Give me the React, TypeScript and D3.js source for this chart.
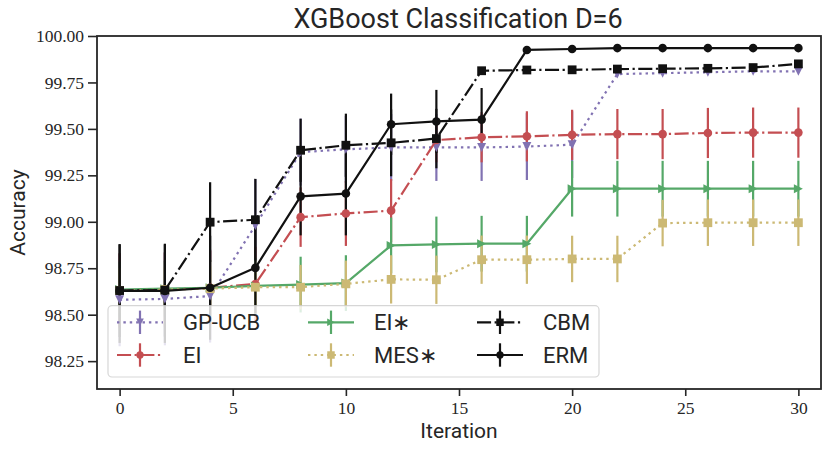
import React, { useEffect, useRef } from 'react'
import * as d3 from 'd3'

// iterations on the x axis
const iterations = [0, 2, 4, 6, 8, 10, 12, 14, 16, 18, 20, 22, 24, 26, 28, 30]

// mean accuracy per method
const gpUcb = [98.58, 98.585, 98.6, 98.98, 99.375, 99.39, 99.4, 99.4, 99.4, 99.405, 99.415, 99.795, 99.8, 99.805, 99.81, 99.81]
const ei = [98.63, 98.635, 98.645, 98.665, 99.025, 99.045, 99.06, 99.44, 99.455, 99.46, 99.468, 99.472, 99.472, 99.478, 99.48, 99.48]
const eiStar = [98.635, 98.64, 98.645, 98.655, 98.662, 98.67, 98.873, 98.878, 98.882, 98.882, 99.178, 99.178, 99.178, 99.178, 99.178, 99.178]
const mesStar = [98.63, 98.635, 98.64, 98.648, 98.648, 98.666, 98.69, 98.688, 98.796, 98.796, 98.8, 98.8, 98.993, 98.995, 98.995, 98.995]
const cbm = [98.63, 98.632, 98.998, 99.011, 99.385, 99.412, 99.425, 99.448, 99.813, 99.817, 99.818, 99.822, 99.824, 99.826, 99.83, 99.85]
const erm = [98.628, 98.628, 98.645, 98.752, 99.137, 99.152, 99.525, 99.54, 99.55, 99.925, 99.93, 99.935, 99.935, 99.935, 99.935, 99.935]

// error bar half-lengths
const gpUcbErr = [0.25, 0.25, 0.25, 0.25, 0.18, 0.18, 0.18, 0.18, 0.18, 0.18, 0.18, 0, 0, 0, 0, 0]
const eiErr = [0.2, 0.2, 0.2, 0.2, 0.16, 0.175, 0.17, 0.12, 0.135, 0.135, 0.135, 0.135, 0.135, 0.135, 0.135, 0.135]
const eiStarErr = [0.15, 0.15, 0.15, 0.15, 0.15, 0.15, 0.15, 0.15, 0.15, 0.15, 0.15, 0.15, 0.15, 0.15, 0.15, 0.15]
const mesStarErr = [0.12, 0.12, 0.12, 0.12, 0.12, 0.125, 0.13, 0.13, 0.13, 0.13, 0.125, 0.125, 0.125, 0.125, 0.125, 0.125]
const cbmErr = [0.25, 0.25, 0.215, 0.22, 0.17, 0.17, 0.18, 0.16, 0, 0, 0, 0, 0, 0, 0, 0]
const ermErrHi = [0.25, 0.25, 0.28, 0.245, 0.21, 0.215, 0.165, 0.17, 0.17, 0, 0, 0, 0, 0, 0, 0]
const ermErrLo = [0.28, 0.28, 0.28, 0.245, 0.21, 0.225, 0.165, 0.17, 0.09, 0, 0, 0, 0, 0, 0, 0]

const xTicks = [0, 5, 10, 15, 20, 25, 30]
const yTicks = [98.25, 98.5, 98.75, 99.0, 99.25, 99.5, 99.75, 100.0]

type Marker = 'tri-down' | 'tri-right' | 'circle' | 'square'

interface Series {
  name: string
  values: number[]
  lo: number[]
  hi: number[]
  color: string
  dash: string | null
  marker: Marker
}

const LW = 2.2
const DOTTED = `${LW * 1.1},${LW * 1.8}`
const DASHDOT = `${LW * 6.4},${LW * 1.6},${LW},${LW * 1.6}`

const series: Series[] = [
  { name: 'GP-UCB', values: gpUcb, lo: gpUcbErr, hi: gpUcbErr, color: '#8172B2', dash: DOTTED, marker: 'tri-down' },
  { name: 'EI', values: ei, lo: eiErr, hi: eiErr, color: '#C44E52', dash: DASHDOT, marker: 'circle' },
  { name: 'EI\u2217', values: eiStar, lo: eiStarErr, hi: eiStarErr, color: '#55A868', dash: null, marker: 'tri-right' },
  { name: 'MES\u2217', values: mesStar, lo: mesStarErr, hi: mesStarErr, color: '#CCB974', dash: DOTTED, marker: 'square' },
  { name: 'CBM', values: cbm, lo: cbmErr, hi: cbmErr, color: '#111111', dash: DASHDOT, marker: 'square' },
  { name: 'ERM', values: erm, lo: ermErrLo, hi: ermErrHi, color: '#111111', dash: null, marker: 'circle' },
]

const markerPath = (m: Marker): string => {
  const r = 4.5
  if (m === 'tri-down') return `M${-r},${-r}L${r},${-r}L0,${r}Z`
  if (m === 'tri-right') return `M${-r},${-r}L${r},0L${-r},${r}Z`
  if (m === 'square') return `M${-4.4},${-4.4}h8.8v8.8h-8.8Z`
  return d3.symbol(d3.symbolCircle, Math.PI * 4.3 * 4.3)() as string
}

const width = 830
const height = 453
const margin = { top: 36, right: 9, bottom: 64, left: 97 }
const axisColor = '#262626'
const sans = 'Roboto, "Liberation Sans", sans-serif'
const serif = '"Liberation Serif", "DejaVu Serif", serif'

const App: React.FC = () => {
  const ref = useRef<SVGSVGElement>(null)

  useEffect(() => {
    if (!ref.current) return
    const svg = d3.select(ref.current)
    svg.selectAll('*').remove()

    const x = d3.scaleLinear().domain([-1, 31]).range([margin.left, width - margin.right])
    const y = d3.scaleLinear().domain([98.1, 100]).range([height - margin.bottom, margin.top])

    svg.append('rect').attr('width', width).attr('height', height).attr('fill', '#fff')

    // error bars sit below every line
    series.forEach(s => {
      svg.append('g')
        .selectAll('line')
        .data(s.values)
        .enter().append('line')
        .attr('x1', (_, i) => x(iterations[i]))
        .attr('x2', (_, i) => x(iterations[i]))
        .attr('y1', (d, i) => y(d + s.hi[i]))
        .attr('y2', (d, i) => y(d - s.lo[i]))
        .attr('stroke', s.color)
        .attr('stroke-width', LW)
    })

    const line = d3.line<number>()
      .x((_, i) => x(iterations[i]))
      .y(d => y(d))

    series.forEach(s => {
      const g = svg.append('g')
      g.append('path')
        .datum(s.values)
        .attr('d', line)
        .attr('fill', 'none')
        .attr('stroke', s.color)
        .attr('stroke-width', LW)
        .attr('stroke-linejoin', 'round')
        .attr('stroke-dasharray', s.dash)
      g.selectAll('path.m')
        .data(s.values)
        .enter().append('path')
        .attr('class', 'm')
        .attr('d', markerPath(s.marker))
        .attr('transform', (d, i) => `translate(${x(iterations[i])},${y(d)})`)
        .attr('fill', s.color)
    })

    // axes frame
    svg.append('rect')
      .attr('x', margin.left)
      .attr('y', margin.top)
      .attr('width', width - margin.left - margin.right)
      .attr('height', height - margin.top - margin.bottom)
      .attr('fill', 'none')
      .attr('stroke', axisColor)
      .attr('stroke-width', 1.8)

    const xAxis = svg.append('g')
      .attr('transform', `translate(0,${height - margin.bottom})`)
      .call(d3.axisBottom(x).tickValues(xTicks).tickSize(7).tickPadding(6).tickFormat(d3.format('d')))
    const yAxis = svg.append('g')
      .attr('transform', `translate(${margin.left},0)`)
      .call(d3.axisLeft(y).tickValues(yTicks).tickSize(9).tickPadding(4).tickFormat(d3.format('.2f')))
    ;[xAxis, yAxis].forEach(a => {
      a.select('.domain').remove()
      a.selectAll('line').attr('stroke', axisColor).attr('stroke-width', 1.6)
      a.selectAll('text')
        .attr('fill', axisColor)
        .style('font-family', serif)
        .style('font-size', '17.5px')
    })

    // legend
    const lg = svg.append('g')
    lg.append('rect')
      .attr('x', 108).attr('y', 305.7)
      .attr('width', 491).attr('height', 71.3)
      .attr('rx', 4)
      .attr('fill', '#fff').attr('fill-opacity', 0.8)
      .attr('stroke', '#cccccc').attr('stroke-opacity', 0.8)
      .attr('stroke-width', 1.2)
    const colX = [117, 308, 477]
    const rowY = [322.3, 355]
    series.forEach((s, k) => {
      const cx = colX[Math.floor(k / 2)]
      const cy = rowY[k % 2]
      const e = lg.append('g')
      e.append('line')
        .attr('x1', cx).attr('x2', cx + 46).attr('y1', cy).attr('y2', cy)
        .attr('stroke', s.color).attr('stroke-width', LW)
        .attr('stroke-dasharray', s.dash)
      e.append('line')
        .attr('x1', cx + 23).attr('x2', cx + 23).attr('y1', cy - 11.7).attr('y2', cy + 11.7)
        .attr('stroke', s.color).attr('stroke-width', LW)
      e.append('path')
        .attr('d', markerPath(s.marker))
        .attr('transform', `translate(${cx + 23},${cy}) scale(0.85)`)
        .attr('fill', s.color)
      e.append('text')
        .attr('x', cx + 66).attr('y', cy + 7.8)
        .attr('fill', axisColor)
        .style('font-family', sans)
        .style('font-size', '22px')
        .text(s.name)
    })

    svg.append('text')
      .attr('x', 458).attr('y', 28.3)
      .attr('text-anchor', 'middle')
      .attr('fill', axisColor)
      .style('font-family', sans)
      .style('font-size', '27px')
      .text('XGBoost Classification D=6')

    svg.append('text')
      .attr('x', 459).attr('y', 438)
      .attr('text-anchor', 'middle')
      .attr('fill', axisColor)
      .style('font-family', sans)
      .style('font-size', '21px')
      .text('Iteration')

    svg.append('text')
      .attr('transform', 'translate(25,212.5) rotate(-90)')
      .attr('text-anchor', 'middle')
      .attr('fill', axisColor)
      .style('font-family', sans)
      .style('font-size', '21px')
      .text('Accuracy')
  }, [])

  return (
    <svg
      ref={ref}
      width={width}
      height={height}
      style={{ position: 'absolute', left: 0, top: 0 }}
    ></svg>
  )
}

export default App
